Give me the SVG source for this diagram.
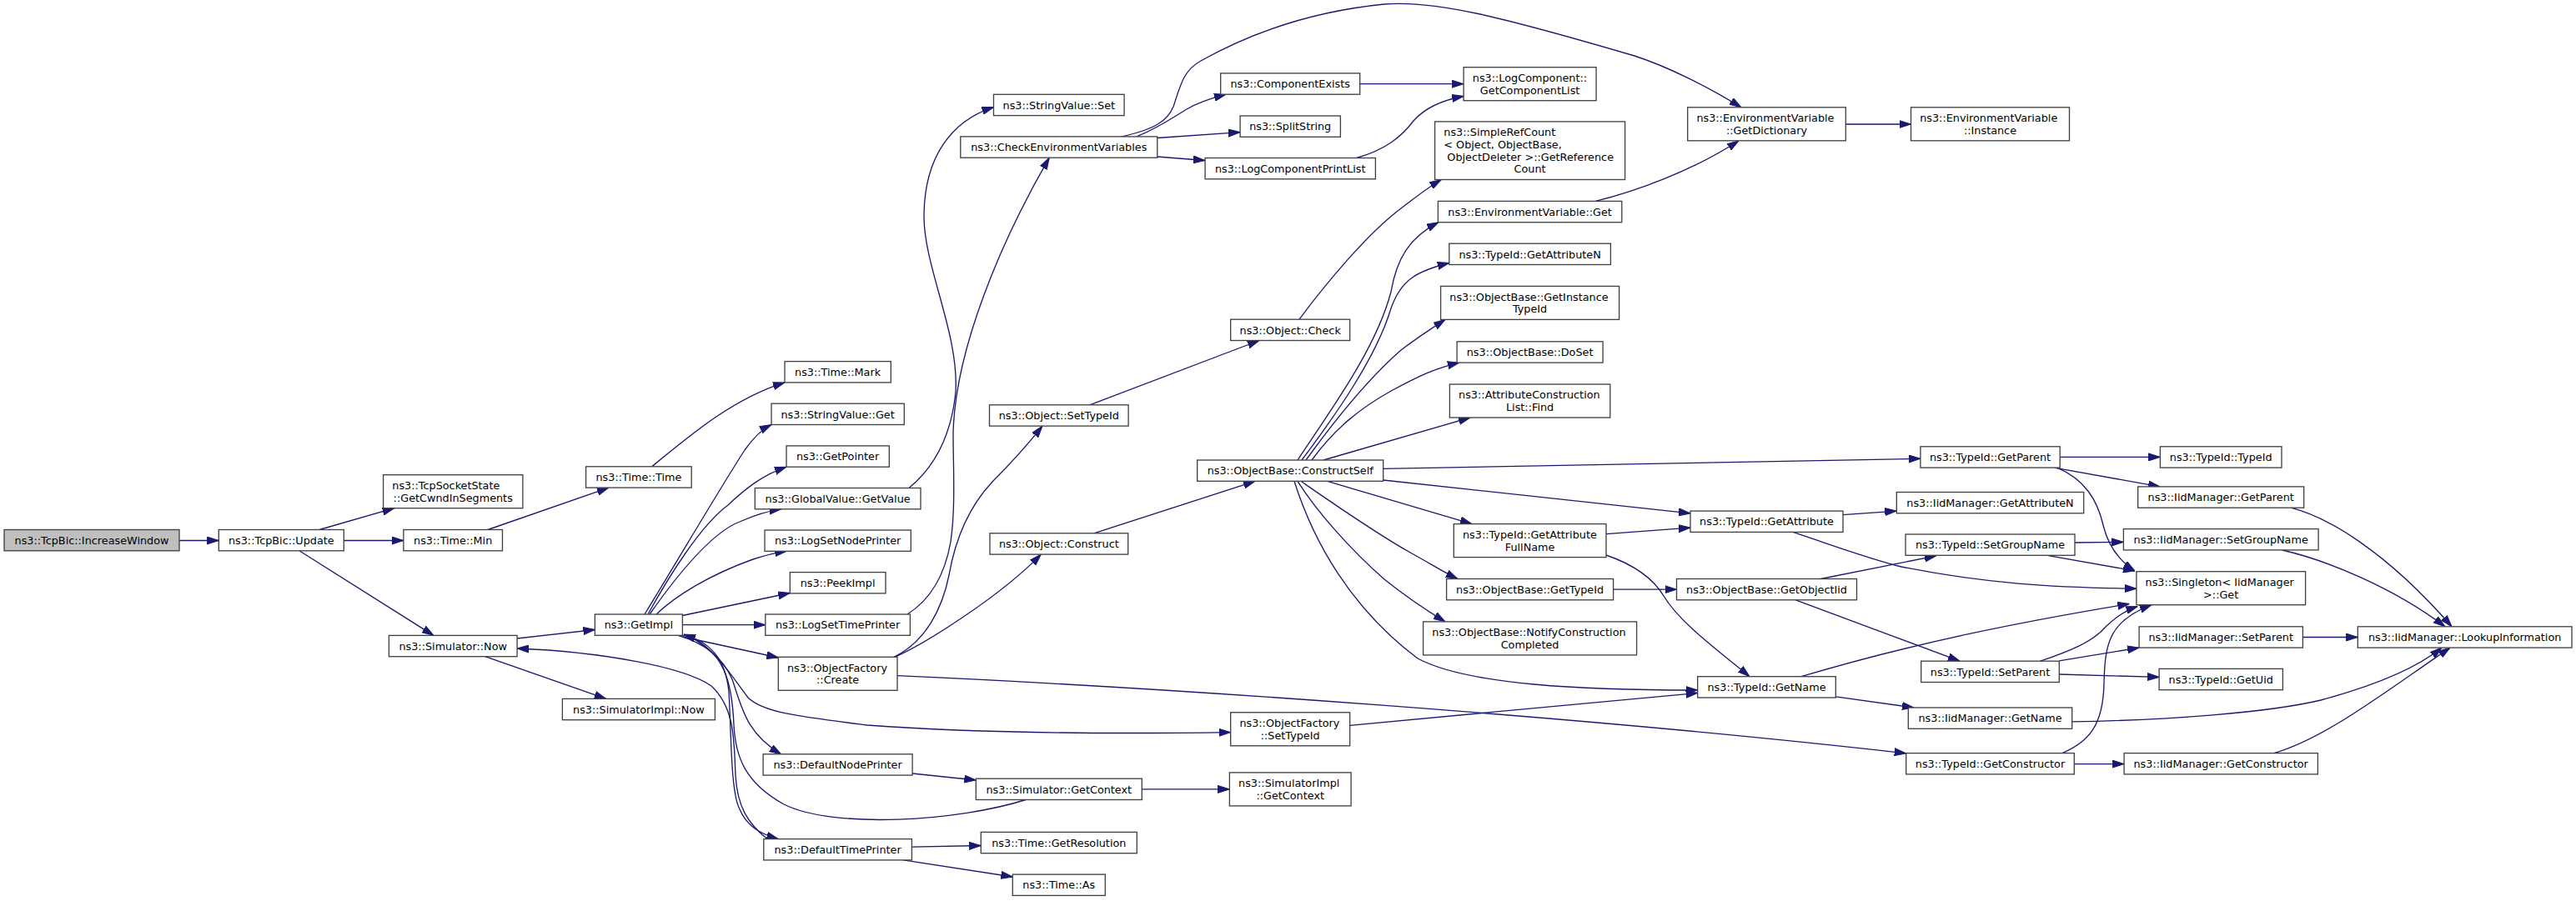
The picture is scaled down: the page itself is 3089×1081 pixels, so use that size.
<svg xmlns="http://www.w3.org/2000/svg" width="3089" height="1081" viewBox="0 0 3089 1081">
<style>
.n rect{fill:#fff;stroke:#404040;stroke-width:1.33}
.n text{font-family:"DejaVu Sans",sans-serif;font-size:12.8px;fill:#000}
.n text.m{text-anchor:middle}
.e{fill:none;stroke:#191970;stroke-width:1.33;marker-end:url(#ah)}
</style>
<defs>
<marker id="ah" viewBox="0 0 14 10" refX="14" refY="5" markerWidth="14" markerHeight="10" orient="auto" markerUnits="userSpaceOnUse"><path d="M0,0.5 L14,5 L0,9.5 Z" fill="#191970" stroke="#191970" stroke-width="1"/></marker>
</defs>
<rect x="0" y="0" width="3089" height="1081" fill="#fff"/>
<g id="edges">
<path class="e" d="M215,648.5 L262.3,648.5"/>
<path class="e" d="M383,635.5 L472.7,609.7"/>
<path class="e" d="M412.3,648.5 L483.9,648.5"/>
<path class="e" d="M359.3,661 L520,762.4"/>
<path class="e" d="M585,635.5 L730,585.1"/>
<path class="e" d="M781.7,559.8 C830,520 880,478 941,458.9"/>
<path class="e" d="M620.1,766 L713.4,755.5"/>
<path class="e" d="M581.7,787.7 L726.7,838.4"/>
<path class="e" d="M920,1006.6 C897,988 884,968 882,930 C880,890 882,850 853,823 C820,800 720,782 620.1,778"/>
<path class="e" d="M773,737 C820,660 870,575 893,540 C902,527 912,516 925,509.5"/>
<path class="e" d="M777,737 C800,695 840,630 873,606 C895,585 915,570 943,560.2"/>
<path class="e" d="M779,737 C805,700 850,640 887,626 C905,618 920,613 936.7,610.8"/>
<path class="e" d="M787,737 C810,715 850,690 903,671 C915,667 930,663 943.3,661.3"/>
<path class="e" d="M818.4,738.5 L947.3,711.5"/>
<path class="e" d="M818.4,749.7 L917.8,749.7"/>
<path class="e" d="M818.4,764 L933.3,789"/>
<path class="e" d="M813,762.3 C840,770 865,785 878,815 C890,850 895,880 936.7,904.8"/>
<path class="e" d="M819,762.3 C850,768 870,790 874,830 C877,880 876,950 887,971 C895,990 910,1000 933.3,1006.6"/>
<path class="e" d="M1230,959.5 C1150,985 1000,995 940,965 C895,940 882,910 880,870 C878,820 870,780 820,761"/>
<path class="e" d="M825,762.3 C860,780 880,815 897,837 C915,855 960,860 1040,870 C1200,882 1380,880 1475.7,878.6"/>
<path class="e" d="M1090,585.5 C1115,565 1140,530 1146,470 C1150,400 1108,320 1108,260 C1108,190 1140,145 1191.5,128.6"/>
<path class="e" d="M1088,737 C1115,720 1133,690 1140,650 C1146,610 1143,560 1143,520 C1145,420 1200,290 1258.3,189.2"/>
<path class="e" d="M1072,788.3 C1110,770 1130,730 1138,690 C1145,650 1160,610 1190,578 C1210,558 1235,530 1250,511.1"/>
<path class="e" d="M1073,788.3 C1110,772 1200,715 1248.3,665.1"/>
<path class="e" d="M1076,810.7 C1400,825 1900,860 2285.7,903.8"/>
<path class="e" d="M1618.7,870.3 L2035.7,831.4"/>
<path class="e" d="M1094.1,928 L1170.3,936"/>
<path class="e" d="M1369.3,946.9 L1474.4,946.9"/>
<path class="e" d="M1093.4,1016.2 L1176.3,1014.5"/>
<path class="e" d="M1083.3,1031.9 L1214.3,1052"/>
<path class="e" d="M1363,163.9 C1390,153 1405,142 1423,131 C1437,123 1452,118 1470,113.2"/>
<path class="e" d="M1345,163.9 C1385,155 1400,145 1407,128 C1415,105 1418,85 1440,73 C1490,45 1560,15 1660,5 C1720,0 1800,20 1960,67 C2000,80 2050,105 2088,128.8"/>
<path class="e" d="M1387.8,165.5 L1487.1,158.6"/>
<path class="e" d="M1387.8,188 L1445.1,192.5"/>
<path class="e" d="M1630.7,100.7 L1755.1,100.7"/>
<path class="e" d="M1626.7,189.5 C1660,180 1680,165 1695,145 C1710,128 1730,120 1755.1,115.5"/>
<path class="e" d="M1558,383.2 C1590,340 1640,280 1680,250 C1700,235 1712,225 1728.3,215.5"/>
<path class="e" d="M1306.7,485.8 L1510,408.5"/>
<path class="e" d="M1311.7,639.8 L1505,577.3"/>
<path class="e" d="M1556,552 C1590,500 1650,420 1668,350 C1675,310 1690,285 1725,266.7"/>
<path class="e" d="M1561,552 C1600,500 1650,430 1668,370 C1680,335 1700,325 1737.8,315.5"/>
<path class="e" d="M1566,552 C1600,505 1640,455 1680,420 C1700,405 1715,395 1733,383.4"/>
<path class="e" d="M1573,552 C1600,515 1630,490 1670,468 C1700,452 1720,442 1750,435.1"/>
<path class="e" d="M1587,552 L1763,501"/>
<path class="e" d="M1658.7,562.4 L2302.9,550.3"/>
<path class="e" d="M1658.7,576 L2027,615.9"/>
<path class="e" d="M1591.7,577.3 L1765,628.6"/>
<path class="e" d="M1560,577.3 C1600,605 1650,640 1693,664 C1715,676 1730,686 1748,694.5"/>
<path class="e" d="M1556,577.3 C1580,615 1620,660 1660,695 C1685,715 1710,732 1733,745.9"/>
<path class="e" d="M1552,577.3 C1575,650 1620,730 1700,790 C1760,822 1900,828 2035.7,828"/>
<path class="e" d="M1926,640.7 L2027,633.1"/>
<path class="e" d="M1926,666 C1955,676 1980,690 1995,715 C2015,748 2060,780 2098,811.7"/>
<path class="e" d="M1934.6,707.2 L2010.5,707.2"/>
<path class="e" d="M2210,617.6 L2274.3,613.1"/>
<path class="e" d="M2150,638.4 C2200,655 2240,670 2280,680 C2380,700 2460,705 2561.9,706.2"/>
<path class="e" d="M2183.3,694.5 L2321.7,666.9"/>
<path class="e" d="M2153.3,719.8 L2350,793.2"/>
<path class="e" d="M2160,811.7 C2300,770 2430,745 2553.3,724.5"/>
<path class="e" d="M2201.3,835.9 L2295,849"/>
<path class="e" d="M2488,651 L2546.4,650.3"/>
<path class="e" d="M2455,666.3 L2560,685"/>
<path class="e" d="M2470.2,548.4 L2590.4,548.4"/>
<path class="e" d="M2463.3,561.1 L2590,583.9"/>
<path class="e" d="M2466.7,561.1 C2500,575 2515,600 2522,630 C2528,655 2540,672 2560,685"/>
<path class="e" d="M2446.7,793.2 C2480,782 2510,770 2525,752 C2540,738 2550,732 2563.3,727.5"/>
<path class="e" d="M2469.3,792.8 L2565.1,777.1"/>
<path class="e" d="M2469.3,809 L2589.1,812.4"/>
<path class="e" d="M2484.7,865.9 C2600,864 2720,855 2783,840 C2850,822 2900,800 2928,777.1"/>
<path class="e" d="M2487.3,916.6 L2547.1,916.6"/>
<path class="e" d="M2473,903.6 C2505,890 2522,870 2523,820 C2524,770 2530,745 2580,725.7"/>
<path class="e" d="M2747,609.2 C2790,620 2860,660 2940,751.8"/>
<path class="e" d="M2736.7,660 C2790,672 2870,705 2932,751.8"/>
<path class="e" d="M2761.4,764.5 L2827.3,764.5"/>
<path class="e" d="M2726.7,903.6 C2790,885 2860,830 2938,777.1"/>
<path class="e" d="M1913.3,241.4 C1960,230 2030,205 2085,168.8"/>
<path class="e" d="M2213.3,149 L2291.5,149"/>
</g>
<g id="n1" class="n"><rect x="5" y="635.5" width="210" height="25.3" style="fill:#bfbfbf"/><text class="m" x="110" y="652.8">ns3::TcpBic::IncreaseWindow</text></g>
<g id="n2" class="n"><rect x="262.3" y="635.5" width="150" height="25.3"/><text class="m" x="337.3" y="652.8">ns3::TcpBic::Update</text></g>
<g id="n3" class="n"><rect x="459.6" y="569.7" width="167.3" height="40"/><text x="470.3" y="587">ns3::TcpSocketState</text><text class="m" x="543.2" y="601.6">::GetCwndInSegments</text></g>
<g id="n4" class="n"><rect x="483.9" y="635.5" width="118.6" height="25.3"/><text class="m" x="543.2" y="652.8">ns3::Time::Min</text></g>
<g id="n7" class="n"><rect x="466.4" y="762.4" width="153.7" height="25.3"/><text class="m" x="543.2" y="779.7">ns3::Simulator::Now</text></g>
<g id="n5" class="n"><rect x="702.6" y="559.8" width="126.6" height="25.3"/><text class="m" x="765.9" y="577.1">ns3::Time::Time</text></g>
<g id="n9" class="n"><rect x="713.4" y="737" width="105" height="25.3"/><text class="m" x="765.9" y="754.3">ns3::GetImpl</text></g>
<g id="n8" class="n"><rect x="674.4" y="838.4" width="183" height="25.3"/><text class="m" x="765.9" y="855.7">ns3::SimulatorImpl::Now</text></g>
<g id="n6" class="n"><rect x="941" y="433.6" width="127.3" height="25.3"/><text class="m" x="1004.6" y="450.9">ns3::Time::Mark</text></g>
<g id="n10" class="n"><rect x="925" y="484.2" width="159.3" height="25.3"/><text class="m" x="1004.6" y="501.5">ns3::StringValue::Get</text></g>
<g id="n11" class="n"><rect x="943" y="534.9" width="123.3" height="25.3"/><text class="m" x="1004.6" y="552.2">ns3::GetPointer</text></g>
<g id="n12" class="n"><rect x="905.3" y="585.5" width="198.7" height="25.3"/><text class="m" x="1004.6" y="602.8">ns3::GlobalValue::GetValue</text></g>
<g id="n13" class="n"><rect x="917" y="636" width="175.3" height="25.3"/><text class="m" x="1004.6" y="653.3">ns3::LogSetNodePrinter</text></g>
<g id="n14" class="n"><rect x="947.3" y="686.6" width="114.7" height="25.3"/><text class="m" x="1004.6" y="703.9">ns3::PeekImpl</text></g>
<g id="n15" class="n"><rect x="917.8" y="737" width="173.6" height="25.3"/><text class="m" x="1004.6" y="754.3">ns3::LogSetTimePrinter</text></g>
<g id="n16" class="n"><rect x="933.3" y="788.3" width="142.7" height="40"/><text x="944" y="805.6">ns3::ObjectFactory</text><text class="m" x="1004.6" y="820.2">::Create</text></g>
<g id="n17" class="n"><rect x="915.1" y="904.8" width="179" height="25.3"/><text class="m" x="1004.6" y="922.1">ns3::DefaultNodePrinter</text></g>
<g id="n18" class="n"><rect x="915.8" y="1006.6" width="177.6" height="25.3"/><text class="m" x="1004.6" y="1023.9">ns3::DefaultTimePrinter</text></g>
<g id="n19" class="n"><rect x="1191.5" y="113.3" width="156.6" height="25.3"/><text class="m" x="1269.8" y="130.6">ns3::StringValue::Set</text></g>
<g id="n20" class="n"><rect x="1151.8" y="163.9" width="236" height="25.3"/><text class="m" x="1269.8" y="181.2">ns3::CheckEnvironmentVariables</text></g>
<g id="n21" class="n"><rect x="1186.5" y="485.8" width="166.6" height="25.3"/><text class="m" x="1269.8" y="503.1">ns3::Object::SetTypeId</text></g>
<g id="n22" class="n"><rect x="1187" y="639.8" width="165.7" height="25.3"/><text class="m" x="1269.8" y="657.1">ns3::Object::Construct</text></g>
<g id="n24" class="n"><rect x="1170.3" y="934.2" width="199" height="25.3"/><text class="m" x="1269.8" y="951.5">ns3::Simulator::GetContext</text></g>
<g id="n25" class="n"><rect x="1176.3" y="998.4" width="187" height="25.3"/><text class="m" x="1269.8" y="1015.7">ns3::Time::GetResolution</text></g>
<g id="n26" class="n"><rect x="1214.3" y="1049.1" width="111" height="25.3"/><text class="m" x="1269.8" y="1066.4">ns3::Time::As</text></g>
<g id="n27" class="n"><rect x="1463.7" y="87.9" width="167" height="25.3"/><text class="m" x="1547.2" y="105.2">ns3::ComponentExists</text></g>
<g id="n28" class="n"><rect x="1487.1" y="139" width="120.3" height="25.3"/><text class="m" x="1547.2" y="156.3">ns3::SplitString</text></g>
<g id="n29" class="n"><rect x="1445.1" y="189.5" width="204.3" height="25.3"/><text class="m" x="1547.2" y="206.8">ns3::LogComponentPrintList</text></g>
<g id="n32" class="n"><rect x="1475.7" y="383.2" width="143" height="25.3"/><text class="m" x="1547.2" y="400.5">ns3::Object::Check</text></g>
<g id="n33" class="n"><rect x="1435.7" y="552" width="223" height="25.3"/><text class="m" x="1547.2" y="569.3">ns3::ObjectBase::ConstructSelf</text></g>
<g id="n23" class="n"><rect x="1475.7" y="854.8" width="143" height="40"/><text x="1486.4" y="872.1">ns3::ObjectFactory</text><text class="m" x="1547.2" y="886.7">::SetTypeId</text></g>
<g id="n42" class="n"><rect x="1474.4" y="926.9" width="145.7" height="40"/><text x="1485.1" y="944.2">ns3::SimulatorImpl</text><text class="m" x="1547.2" y="958.8">::GetContext</text></g>
<g id="n30" class="n"><rect x="1755.1" y="80.7" width="159" height="40"/><text x="1765.8" y="98">ns3::LogComponent::</text><text class="m" x="1834.6" y="112.6">GetComponentList</text></g>
<g id="n31" class="n"><rect x="1720.6" y="145.9" width="228" height="69.6"/><text x="1731.3" y="163.4">ns3::SimpleRefCount</text><text x="1731.3" y="178">&lt; Object, ObjectBase,</text><text x="1731.3" y="192.6" xml:space="preserve"> ObjectDeleter &gt;::GetReference</text><text class="m" x="1834.6" y="207.2">Count</text></g>
<g id="n34" class="n"><rect x="1724.4" y="241.4" width="220.4" height="25.3"/><text class="m" x="1834.6" y="258.7">ns3::EnvironmentVariable::Get</text></g>
<g id="n35" class="n"><rect x="1737.8" y="292.2" width="193.6" height="25.3"/><text class="m" x="1834.6" y="309.5">ns3::TypeId::GetAttributeN</text></g>
<g id="n36" class="n"><rect x="1727.6" y="343.4" width="214" height="40"/><text x="1738.3" y="360.7">ns3::ObjectBase::GetInstance</text><text class="m" x="1834.6" y="375.3">TypeId</text></g>
<g id="n37" class="n"><rect x="1747.1" y="409.8" width="175" height="25.3"/><text class="m" x="1834.6" y="427.1">ns3::ObjectBase::DoSet</text></g>
<g id="n38" class="n"><rect x="1738.4" y="461" width="192.4" height="40"/><text x="1749.1" y="478.3">ns3::AttributeConstruction</text><text class="m" x="1834.6" y="492.9">List::Find</text></g>
<g id="n39" class="n"><rect x="1743.3" y="628.6" width="182.7" height="40"/><text x="1754" y="645.9">ns3::TypeId::GetAttribute</text><text class="m" x="1834.6" y="660.5">FullName</text></g>
<g id="n40" class="n"><rect x="1734.6" y="694.5" width="200" height="25.3"/><text class="m" x="1834.6" y="711.8">ns3::ObjectBase::GetTypeId</text></g>
<g id="n41" class="n"><rect x="1706.6" y="745.9" width="256" height="40"/><text x="1717.3" y="763.2">ns3::ObjectBase::NotifyConstruction</text><text class="m" x="1834.6" y="777.8">Completed</text></g>
<g id="n43" class="n"><rect x="2023.7" y="128.8" width="189.6" height="40"/><text x="2034.4" y="146.1">ns3::EnvironmentVariable</text><text class="m" x="2118.5" y="160.7">::GetDictionary</text></g>
<g id="n46" class="n"><rect x="2027" y="613.1" width="183" height="25.3"/><text class="m" x="2118.5" y="630.4">ns3::TypeId::GetAttribute</text></g>
<g id="n49" class="n"><rect x="2010.5" y="694.5" width="216" height="25.3"/><text class="m" x="2118.5" y="711.8">ns3::ObjectBase::GetObjectIid</text></g>
<g id="n51" class="n"><rect x="2035.7" y="811.7" width="165.6" height="25.3"/><text class="m" x="2118.5" y="829">ns3::TypeId::GetName</text></g>
<g id="n44" class="n"><rect x="2291.5" y="128.8" width="190" height="40"/><text x="2302.2" y="146.1">ns3::EnvironmentVariable</text><text class="m" x="2386.5" y="160.7">::Instance</text></g>
<g id="n45" class="n"><rect x="2302.9" y="535.8" width="167.3" height="25.3"/><text class="m" x="2386.5" y="553.1">ns3::TypeId::GetParent</text></g>
<g id="n47" class="n"><rect x="2274.3" y="590.5" width="224.4" height="25.3"/><text class="m" x="2386.5" y="607.8">ns3::IidManager::GetAttributeN</text></g>
<g id="n48" class="n"><rect x="2285" y="641" width="203" height="25.3"/><text class="m" x="2386.5" y="658.3">ns3::TypeId::SetGroupName</text></g>
<g id="n50" class="n"><rect x="2303.7" y="793.2" width="165.6" height="25.3"/><text class="m" x="2386.5" y="810.5">ns3::TypeId::SetParent</text></g>
<g id="n52" class="n"><rect x="2288.3" y="849" width="196.4" height="25.3"/><text class="m" x="2386.5" y="866.3">ns3::IidManager::GetName</text></g>
<g id="n53" class="n"><rect x="2285.7" y="903.6" width="201.6" height="25.3"/><text class="m" x="2386.5" y="920.9">ns3::TypeId::GetConstructor</text></g>
<g id="n54" class="n"><rect x="2590.4" y="535.8" width="145.6" height="25.3"/><text class="m" x="2663.2" y="553.1">ns3::TypeId::TypeId</text></g>
<g id="n55" class="n"><rect x="2563.7" y="583.9" width="199" height="25.3"/><text class="m" x="2663.2" y="601.2">ns3::IidManager::GetParent</text></g>
<g id="n56" class="n"><rect x="2546.4" y="634.6" width="233.7" height="25.3"/><text class="m" x="2663.2" y="651.9">ns3::IidManager::SetGroupName</text></g>
<g id="n57" class="n"><rect x="2561.9" y="685.7" width="202.7" height="40"/><text x="2572.6" y="703">ns3::Singleton&lt; IidManager</text><text class="m" x="2663.2" y="717.6">&gt;::Get</text></g>
<g id="n58" class="n"><rect x="2565.1" y="751.8" width="196.3" height="25.3"/><text class="m" x="2663.2" y="769.1">ns3::IidManager::SetParent</text></g>
<g id="n59" class="n"><rect x="2589.1" y="802.4" width="148.3" height="25.3"/><text class="m" x="2663.2" y="819.7">ns3::TypeId::GetUid</text></g>
<g id="n60" class="n"><rect x="2547.1" y="903.6" width="232.3" height="25.3"/><text class="m" x="2663.2" y="920.9">ns3::IidManager::GetConstructor</text></g>
<g id="n61" class="n"><rect x="2827.3" y="751.8" width="256.7" height="25.3"/><text class="m" x="2955.65" y="769.1">ns3::IidManager::LookupInformation</text></g>
</svg>
